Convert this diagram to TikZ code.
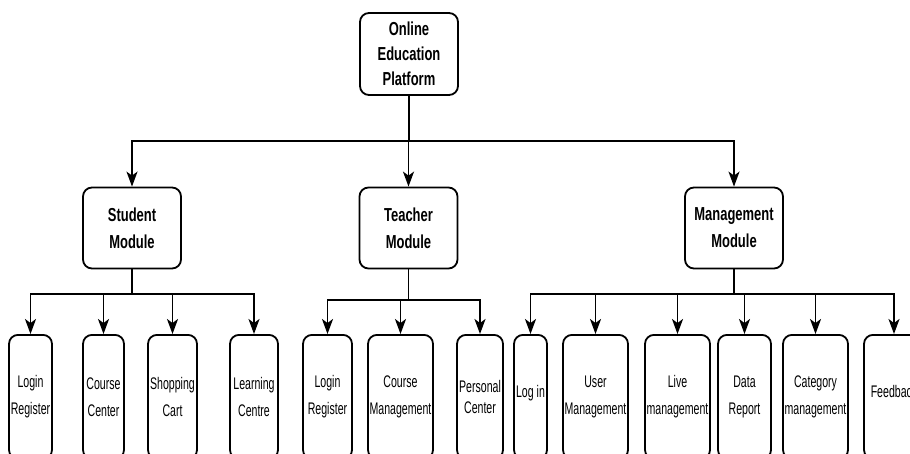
\documentclass[tikz,border=0pt]{standalone}
\usepackage{fontspec}
\setmainfont{Liberation Sans}
\newfontfamily\modfont[FakeStretch=0.69]{Liberation Sans}
\newfontfamily\leaffont[FakeStretch=0.63]{Liberation Sans}
\usetikzlibrary{arrows.meta}
\newcommand{\zl}[1]{\makebox[0pt][c]{#1}}
\begin{document}
\begin{tikzpicture}[x=1pt,y=-1pt,
  box/.style={draw=black,line width=1.8pt,rounded corners=9pt,fill=white,inner sep=0pt,align=center},
  topbox/.style={box,minimum width=98pt,minimum height=82pt,font=\modfont\bfseries\fontsize{18.8}{25}\selectfont},
  modbox/.style={box,minimum width=98pt,minimum height=81pt,font=\modfont\bfseries\fontsize{18.8}{27}\selectfont},
  leaf/.style={box,anchor=north,minimum height=124pt,font=\leaffont\fontsize{16.8}{27}\selectfont},
  arr/.style={line width=1.8pt,-{Stealth[length=15pt,width=11pt,inset=4pt]}}]
\useasboundingbox (0,0) rectangle (910,453);
\clip (0,0) rectangle (910,453);
\fill[white] (0,0) rectangle (910,453);
% top
\node[topbox] (top) at (409,54) {\zl{Online}\\\zl{Education}\\\zl{Platform}};
% modules
\node[modbox] (stu) at (132,228) {\zl{Student}\\\zl{Module}};
\node[modbox] (tea) at (408.5,228) {\zl{Teacher}\\\zl{Module}};
\node[modbox] (man) at (734,228) {\zl{Management}\\\zl{Module}};
% bus coordinates
\coordinate (tbus) at (0,141);
\coordinate (sbus) at (0,294);
\coordinate (ebus) at (0,300);
\coordinate (mbus) at (0,294);
% leaves: student
\node[leaf,minimum width=43pt] (s1) at (30.5,334) {\zl{Login}\\\zl{Register}};
\node[leaf,minimum width=41pt] (s2) at (103.5,334) {\zl{Course}\\\zl{Center}};
\node[leaf,minimum width=49pt] (s3) at (172.5,334) {\zl{Shopping}\\\zl{Cart}};
\node[leaf,minimum width=48pt] (s4) at (254,334) {\zl{Learning}\\\zl{Centre}};
% leaves: teacher
\node[leaf,minimum width=49pt] (t1) at (327.5,334) {\zl{Login}\\\zl{Register}};
\node[leaf,minimum width=65pt] (t2) at (400.5,334) {\zl{Course}\\\zl{Management}};
\node[leaf,minimum width=46pt] (t3) at (480,334) {\zl{Personal}\\[-6pt]\zl{Center}};
% leaves: management
\node[leaf,minimum width=33pt] (m1) at (530.5,334) {\zl{Log in}\\[-16pt]};
\node[leaf,minimum width=65pt] (m2) at (595.5,334) {\zl{User}\\\zl{Management}};
\node[leaf,minimum width=65pt] (m3) at (677.5,334) {\zl{Live}\\\zl{management}};
\node[leaf,minimum width=53pt] (m4) at (744.5,334) {\zl{Data}\\\zl{Report}};
\node[leaf,minimum width=65pt] (m5) at (815.5,334) {\zl{Category}\\\zl{management}};
\node[leaf,minimum width=60pt] (m6) at (894,334) {\zl{Feedback}\\[-16pt]};
% connectors top
\foreach \n in {stu,tea,man}
  \draw[arr] (top.south) -- (top.south |- tbus) -| (\n.north);
% student
\foreach \n in {s1,s2,s3,s4}
  \draw[arr] (stu.south) -- (stu.south |- sbus) -| (\n.north);
\foreach \n in {t1,t2,t3}
  \draw[arr] (tea.south) -- (tea.south |- ebus) -| (\n.north);
\foreach \n in {m1,m2,m3,m4,m5,m6}
  \draw[arr] (man.south) -- (man.south |- mbus) -| (\n.north);
\end{tikzpicture}
\end{document}
